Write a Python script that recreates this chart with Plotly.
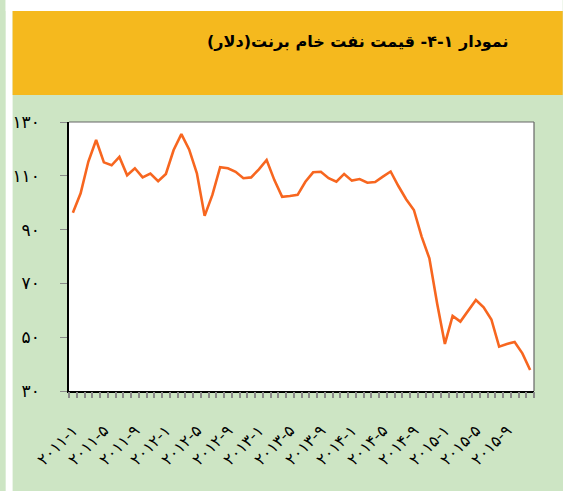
import plotly.graph_objects as go

# ---- data ----
months = list(range(1, 61))  # 2011-1 .. 2015-12
brent = [96.3, 103.5, 115.3, 123.3, 115.0, 113.9, 117.0, 110.2, 112.8, 109.4, 110.8, 108.0,
         110.7, 119.6, 125.5, 119.8, 110.9, 95.1, 102.9, 113.2, 112.8, 111.5, 109.1, 109.4,
         112.4, 115.9, 108.4, 102.2, 102.5, 102.9, 107.8, 111.3, 111.5, 109.1, 107.8, 110.7,
         108.2, 108.8, 107.4, 107.7, 109.7, 111.6, 106.2, 101.3, 97.3, 87.4, 79.3, 62.5,
         47.5, 57.9, 55.8, 59.8, 63.8, 61.1, 56.6, 46.5, 47.5, 48.2, 44.0, 37.8]

x_tickvals = [1, 5, 9, 13, 17, 21, 25, 29, 33, 37, 41, 45, 49, 53, 57]
x_ticktext = ["۲۰۱۱-۱", "۲۰۱۱-۵", "۲۰۱۱-۹", "۲۰۱۲-۱", "۲۰۱۲-۵", "۲۰۱۲-۹",
              "۲۰۱۳-۱", "۲۰۱۳-۵", "۲۰۱۳-۹", "۲۰۱۴-۱", "۲۰۱۴-۵", "۲۰۱۴-۹",
              "۲۰۱۵-۱", "۲۰۱۵-۵", "۲۰۱۵-۹"]
y_tickvals = [30, 50, 70, 90, 110, 130]
y_ticktext = ["۳۰", "۵۰", "۷۰", "۹۰", "۱۱۰", "۱۳۰"]
title_text = "\u200fنمودار ۱-۴- قیمت نفت خام برنت(دلار)\u200f"

W, H = 563, 491
L, T, R, B = 64, 122, 29, 100
pw, ph = W - L - R, H - T - B

def px(xs):
    return (xs - L) / pw

def py(ys):
    return (H - B - ys) / ph

GREEN = "#CDE5C4"
YELLOW = "#F5B91E"
FONT = "DejaVu Sans"
boundaries = [i + 0.5 for i in range(0, 61)]

fig = go.Figure()
# invisible companion trace that carries the category-boundary tick axis
fig.add_trace(go.Scatter(x=months, y=brent, xaxis="x2", mode="lines",
                         line=dict(color="rgba(0,0,0,0)", width=0),
                         hoverinfo="skip", showlegend=False))
fig.add_trace(go.Scatter(x=months, y=brent, mode="lines",
                         line=dict(color="#F7661F", width=2.6),
                         hoverinfo="skip", showlegend=False))

shapes = [
    dict(type="rect", xref="paper", yref="paper", x0=px(0), x1=px(W), y0=py(11), y1=py(0),
         fillcolor="white", line=dict(width=0), layer="below"),
    dict(type="rect", xref="paper", yref="paper", x0=px(0), x1=px(7), y0=py(H), y1=py(0),
         fillcolor="white", line=dict(width=0), layer="below"),
    dict(type="rect", xref="paper", yref="paper", x0=px(7), x1=px(W), y0=py(95), y1=py(11),
         fillcolor=YELLOW, line=dict(width=0), layer="below"),
    dict(type="line", xref="paper", yref="paper", x0=0, x1=1, y0=1, y1=1,
         line=dict(color="#666666", width=1.2)),
    dict(type="line", xref="paper", yref="paper", x0=1, x1=1, y0=0, y1=1,
         line=dict(color="#666666", width=1.2)),
]

fig.update_layout(
    width=W, height=H,
    margin=dict(l=L, r=R, t=T, b=B, pad=0),
    paper_bgcolor=GREEN,
    plot_bgcolor="white",
    shapes=shapes,
    font=dict(family=FONT, color="black"),
    annotations=[dict(text="<b>" + title_text + "</b>", xref="paper", yref="paper",
                      x=px(511), y=py(42), xanchor="right", yanchor="middle",
                      showarrow=False, font=dict(family=FONT, size=16, color="black"))],
    xaxis=dict(range=[0.5, 60.5], showgrid=False, zeroline=False,
               showline=True, linecolor="black", linewidth=1.6,
               tickmode="array", tickvals=x_tickvals, ticktext=x_ticktext,
               ticks="", tickangle=-45, ticklabelstandoff=22,
               tickfont=dict(family=FONT, size=16, color="black")),
    xaxis2=dict(range=[0.5, 60.5], overlaying="x", side="bottom", anchor="y",
                showgrid=False, zeroline=False, showline=False, showticklabels=False,
                tickmode="array", tickvals=boundaries,
                ticks="outside", ticklen=6, tickwidth=1.5, tickcolor="#8A8A8A"),
    yaxis=dict(range=[30, 130], showgrid=False, zeroline=False,
               showline=True, linecolor="black", linewidth=1.6,
               tickmode="array", tickvals=y_tickvals, ticktext=y_ticktext,
               ticks="outside", ticklen=7, tickcolor="#8A8A8A", tickwidth=1.2,
               ticklabelstandoff=17,
               tickfont=dict(family=FONT, size=17, color="black")),
)

fig.write_html(
    "out.html",
    config={"displayModeBar": False},
    post_script="document.body.style.margin='0';document.body.style.overflow='hidden';",
)
